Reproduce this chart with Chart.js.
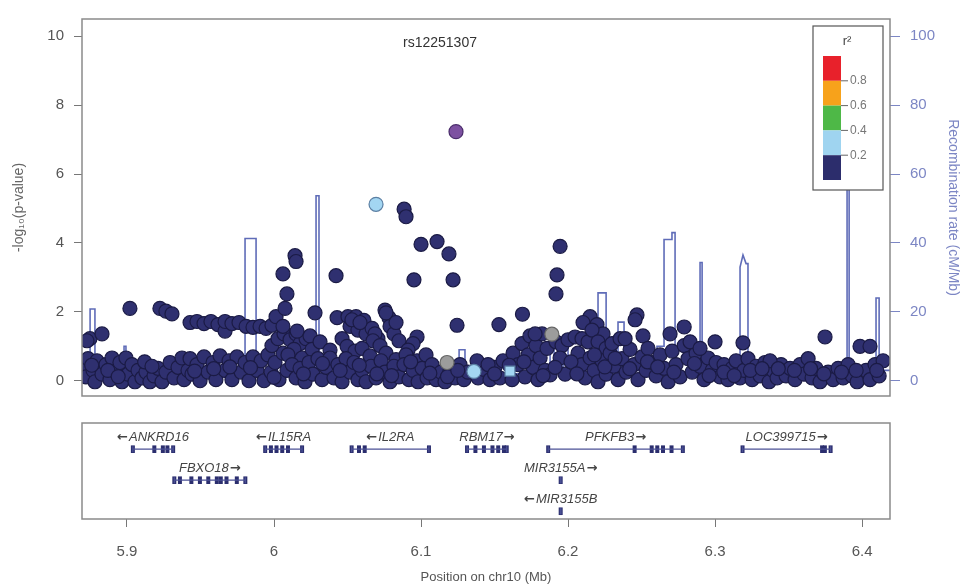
<!DOCTYPE html>
<html>
<head>
<meta charset="utf-8">
<script src="https://cdn.jsdelivr.net/npm/chart.js@4.4.1/dist/chart.umd.min.js"></script>
<style>
  html, body { margin: 0; padding: 0; background: #fff; }
  #wrap { position: relative; width: 965px; height: 587px; }
  canvas { position: absolute; left: 0; }
  #top { top: 0; }
  #genes { top: 415px; }
</style>
</head>
<body>
<div id="wrap">
  <canvas id="top" width="965" height="415"></canvas>
  <canvas id="genes" width="965" height="172"></canvas>
</div>
<script>
// ---- data (position in Mb, -log10 p) ----
const leadSnp = [[6.1238, 7.23]];
const lightBlueSnps = [[6.0694, 5.12], [6.1360, 0.27]];
const lightBlueSquare = [[6.1605, 0.28]];
const greySnps = [[6.1890, 1.35], [6.1177, 0.53]];

const navySnps = [
  [5.8707,0.39],[5.8721,0.11],[5.8735,0.64],[5.8748,1.22],[5.8728,1.16],[5.8769,0.30],[5.8782,-0.03],
  [5.8796,0.58],[5.8830,1.36],[5.8830,0.19],[5.8857,0.47],[5.8884,0.03],[5.8898,0.66],[5.8925,0.25],
  [5.8952,0.53],[5.8966,-0.03],[5.8993,0.66],[5.9007,0.19],[5.9034,0.47],[5.9054,-0.03],[5.9075,0.30],
  [5.9020,2.10],
  [5.9102,0.08],[5.9129,0.25],[5.9156,-0.03],[5.9184,0.14],[5.9211,0.36],[5.9224,2.10],[5.9265,2.02],
  [5.9306,1.94],[5.9238,-0.03],[5.9265,0.25],[5.9293,0.53],[5.9320,0.08],[5.9347,0.39],[5.9374,0.66],
  [5.9388,0.03],[5.9415,0.30],
  [5.9429,1.69],[5.9476,1.72],[5.9524,1.66],[5.9571,1.72],[5.9619,1.63],[5.9667,1.44],[5.9667,1.72],
  [5.9714,1.66],[5.9762,1.69],[5.9810,1.58],[5.9857,1.55],[5.9905,1.58],[5.9946,1.52],[5.9986,1.61],
  [6.0014,1.86],
  [5.9429,0.64],[5.9442,0.19],[5.9476,0.47],[5.9497,0.00],[5.9524,0.69],[5.9551,0.25],[5.9585,0.53],
  [5.9605,0.03],[5.9633,0.72],[5.9667,0.30],[5.9694,0.58],[5.9714,0.03],[5.9748,0.69],[5.9776,0.25],
  [5.9803,0.53],[5.9830,0.00],[5.9857,0.69],[5.9884,0.30],[5.9912,0.58],[5.9932,0.00],[5.9959,0.75],
  [5.9980,0.25],[6.0007,0.53],[6.0034,0.03],[6.0061,0.80],[6.0088,0.30],
  [5.9986,1.02],[6.0027,1.22],[6.0068,1.36],[6.0109,1.19],[6.0061,1.58],[6.0150,1.36],[6.0177,1.08],
  [6.0136,0.91],[6.0218,1.22],[6.0245,1.30],[6.0157,1.44],[6.0095,0.75],[6.0191,0.66],[6.0259,0.91],
  [6.0313,1.13],
  [6.0075,2.10],[6.0061,3.10],[6.0088,2.52],[6.0143,3.63],[6.0150,3.46],[6.0279,1.97],[6.0422,3.05],
  [6.0429,1.83],[6.0381,0.89],[6.0463,1.22],[6.0497,1.00],[6.0551,0.86],
  [6.0123,0.47],[6.0150,0.08],[6.0177,0.36],[6.0211,-0.03],[6.0238,0.53],[6.0265,0.19],[6.0299,0.64],
  [6.0327,0.03],[6.0354,0.39],[6.0381,0.66],[6.0408,0.08],[6.0435,0.47],[6.0463,-0.03],[6.0490,0.64],
  [6.0517,0.25],[6.0544,0.53],[6.0571,0.03],
  [6.0503,1.86],[6.0558,1.86],[6.0517,1.58],[6.0571,1.47],[6.0612,1.75],[6.0626,1.36],[6.0667,1.52],
  [6.0707,1.22],[6.0530,1.77],[6.0585,1.69],[6.0687,1.36],[6.0673,1.16],
  [6.0755,2.05],[6.0782,1.83],[6.0789,1.58],[6.0816,1.36],[6.0850,1.16],[6.0762,1.97],[6.0830,1.69],
  [6.0973,1.27],[6.0946,1.08],[6.0912,0.89],
  [6.0599,0.94],[6.0653,0.72],[6.0721,1.02],[6.0762,0.80],[6.0830,0.61],[6.0898,0.75],[6.0973,0.58],
  [6.1034,0.75],
  [6.0599,0.30],[6.0626,-0.03],[6.0660,0.42],[6.0694,0.08],[6.0728,0.58],[6.0755,0.25],[6.0789,-0.03],
  [6.0816,0.42],[6.0850,0.11],[6.0884,0.47],[6.0918,0.03],[6.0946,0.30],[6.0980,-0.03],[6.1007,0.36],
  [6.1041,0.08],[6.1075,0.47],[6.1102,0.03],[6.1136,0.25],[6.1163,-0.03],[6.1197,0.30],[6.1231,0.08],
  [6.1265,0.47],[6.1292,0.03],[6.1319,0.25],[6.1388,0.08],[6.1429,0.33],[6.1469,0.03],[6.1503,0.39],
  [6.1537,0.08],[6.1381,0.58],[6.1456,0.47],[6.1558,0.58],
  [6.0885,4.98],[6.0898,4.76],[6.1000,3.96],[6.1109,4.04],[6.1190,3.68],[6.1218,2.93],[6.0952,2.93],
  [6.1245,1.61],[6.1946,3.90],[6.1925,3.07],[6.1918,2.52],[6.1530,1.63],[6.1690,1.93],
  [6.1626,0.80],[6.1660,0.47],[6.1687,1.08],[6.1707,0.11],[6.1728,0.75],[6.1741,1.30],[6.1762,0.39],
  [6.1782,1.02],[6.1796,0.03],[6.1810,0.66],[6.1823,1.36],[6.1844,0.30],[6.1857,0.94],[6.1619,0.03],
  [6.1776,1.36],
  [6.1918,1.13],[6.1959,1.02],[6.2000,1.19],[6.2048,1.27],[6.2095,1.22],[6.2136,1.13],[6.1946,0.66],
  [6.1878,0.17],[6.1980,0.19],[6.1912,0.39],
  [6.2150,1.86],[6.2102,1.69],[6.2197,1.63],[6.2238,1.36],[6.2163,1.47],[6.2204,1.13],[6.2259,0.94],
  [6.2068,0.80],[6.2095,0.47],[6.2116,0.08],[6.2150,0.66],[6.2177,0.30],[6.2204,-0.03],[6.2231,0.58],
  [6.2259,0.19],[6.2286,0.80],[6.2313,0.42],[6.2340,0.03],[6.2367,0.64],[6.2395,0.25],[6.2422,0.91],
  [6.2449,0.47],[6.2476,0.03],[6.2503,0.69],[6.2531,0.30],[6.2299,1.08],[6.2354,1.22],[6.2469,1.91],
  [6.2456,1.77],[6.2510,1.30],[6.2388,1.22],[6.2544,0.94],[6.2694,1.36],[6.2790,1.56],
  [6.2571,0.53],[6.2599,0.14],[6.2626,0.75],[6.2653,0.36],[6.2681,-0.03],[6.2708,0.86],[6.2735,0.47],
  [6.2762,0.11],[6.2790,1.02],[6.2816,0.64],[6.2844,0.25],[6.2871,0.80],[6.2898,0.42],[6.2925,0.03],
  [6.2952,0.66],[6.2980,0.30],[6.3007,0.53],[6.3034,0.11],[6.3061,0.47],[6.3088,0.03],[6.3116,0.36],
  [6.3143,0.58],[6.3170,0.08],[6.3197,0.30],[6.3000,1.13],[6.3190,1.10],[6.2830,1.13],[6.2898,0.94],
  [6.3224,0.64],[6.3252,0.03],[6.3279,0.42],[6.3306,0.14],[6.3340,0.53],[6.3367,-0.03],[6.3394,0.30],
  [6.3422,0.08],[6.3449,0.47],[6.3374,0.58],[6.3483,0.14],[6.3510,0.36],[6.3544,0.03],[6.3578,0.47],
  [6.3605,0.19],[6.3633,0.64],[6.3660,0.08],[6.3687,0.36],[6.3714,-0.03],[6.3748,1.27],[6.3769,0.25],
  [6.3803,0.03],[6.3837,0.36],[6.3871,0.08],[6.3905,0.47],[6.3932,0.14],[6.3966,-0.03],[6.3986,1.00],
  [6.4054,1.00],[6.4027,0.30],[6.4054,0.03],[6.4088,0.47],[6.4116,0.14],[6.4143,0.58],
  // extra fill in the dense base band
  [5.8760,0.45],[5.8870,0.30],[5.8940,0.12],[5.9120,0.55],[5.9170,0.42],[5.9460,0.28],[5.9590,0.35],
  [5.9700,0.40],[5.9840,0.38],[6.0000,0.10],[6.0200,0.20],[6.0330,0.50],[6.0450,0.30],[6.0580,0.45],
  [6.0700,0.20],[6.0800,0.15],[6.0930,0.55],[6.1060,0.22],[6.1180,0.12],[6.1250,0.30],[6.1500,0.20],
  [6.1600,0.45],[6.1700,0.55],[6.1830,0.15],[6.2020,0.55],[6.2060,0.20],[6.2180,0.75],[6.2250,0.40],
  [6.2320,0.65],[6.2420,0.35],[6.2540,0.55],[6.2610,0.40],[6.2720,0.25],[6.2860,0.50],[6.2960,0.15],
  [6.3060,0.25],[6.3130,0.15],[6.3240,0.30],[6.3320,0.35],[6.3430,0.35],[6.3540,0.30],[6.3650,0.35],
  [6.3740,0.20],[6.3860,0.25],[6.3960,0.30],[6.4100,0.30]
];

// recombination rate (cM/Mb), corners of the step line
const recombPos  = [5.8694,5.8749,5.8749,5.8782,5.8782,5.8980,5.8980,5.8993,5.8993,5.9190,5.9190,5.9200,5.9200,
                    5.9803,5.9803,5.9878,5.9878,6.0286,6.0286,6.0306,6.0306,6.1259,6.1259,6.1299,6.1299,
                    6.1878,6.1878,6.1905,6.1905,6.1966,6.1966,6.2000,6.2000,6.2204,6.2204,6.2259,6.2259,
                    6.2340,6.2340,6.2381,6.2381,6.2605,6.2605,6.2653,6.2653,6.2707,6.2707,6.2728,6.2728,
                    6.2898,6.2898,6.2912,6.2912,6.3170,6.3170,6.3190,6.3211,6.3224,6.3224,6.3898,6.3898,
                    6.3912,6.3912,6.4095,6.4095,6.4116,6.4116,6.4190];
const recombRate = [1.5,1.5,20.8,20.8,2,2,10,10,2,2,4,4,1,
                    1,41.3,41.3,1.5,1.5,53.7,53.7,1.5,1.5,9,9,2,
                    2,10,10,3,3,10,10,2,2,25.5,25.5,3,
                    3,17,17,3,3,10,10,41,41,43,43,2,
                    2,34.3,34.3,2,2,33,36.5,34,34,2,2,66,
                    66,2,2,24,24,3,3];

const pTicks = [0, 2, 4, 6, 8, 10];
const recTicks = [0, 20, 40, 60, 80, 100];
const posTicks = [5.9, 6.0, 6.1, 6.2, 6.3, 6.4];

const legendColors = ['#e8212b', '#f7a21b', '#4eb847', '#9fd4f0', '#2c2d6c'];
const legendLabels = ['0.8', '0.6', '0.4', '0.2'];

// genes
const geneNames  = ['ANKRD16', 'FBXO18', 'IL15RA', 'IL2RA', 'RBM17', 'PFKFB3', 'MIR3155A', 'MIR3155B', 'LOC399715'];
const geneStrand = ['-', '+', '-', '-', '+', '+', '+', '-', '+'];
const geneStart  = [5.9040, 5.9322, 5.9940, 6.0528, 6.1313, 6.1865, 6.1948, 6.1948, 6.3187];
const geneEnd    = [5.9314, 5.9805, 6.0191, 6.1054, 6.1583, 6.2781, 6.1952, 6.1952, 6.3786];
const geneRow    = [0, 1, 0, 0, 0, 0, 1, 2, 0];
const geneExons  = [
  [5.9040, 5.9186, 5.9244, 5.9275, 5.9314],
  [5.9322, 5.9360, 5.9438, 5.9496, 5.9553, 5.9611, 5.9638, 5.9677, 5.9747, 5.9805],
  [5.9940, 5.9979, 6.0017, 6.0056, 6.0095, 6.0191],
  [6.0528, 6.0578, 6.0617, 6.1054],
  [6.1313, 6.1370, 6.1428, 6.1486, 6.1525, 6.1564, 6.1583],
  [6.1865, 6.2453, 6.2569, 6.2607, 6.2646, 6.2704, 6.2781],
  [6.1950],
  [6.1950],
  [6.3187, 6.3728, 6.3747, 6.3786]
];

const xMin = 5.8694, xMax = 6.4190;

Chart.defaults.font.family = '"Liberation Sans", Arial, sans-serif';

function pts(arr) { return arr.map(p => ({ x: p[0], y: p[1] })); }

function snpSet(arr, fill, edge, order, style) {
  return {
    type: 'scatter', data: pts(arr), yAxisID: 'y', order: order,
    backgroundColor: fill, borderColor: edge, pointRadius: 7, borderWidth: 1.2,
    pointStyle: style || 'circle'
  };
}

const framePlugin = {
  id: 'frame',
  afterDraw(chart) {
    const a = chart.chartArea, ctx = chart.ctx;
    ctx.save();
    ctx.strokeStyle = '#8a8a8a';
    ctx.lineWidth = 1.5;
    ctx.strokeRect(a.left, a.top, a.right - a.left, a.bottom - a.top);
    ctx.restore();
  }
};

const ldLegend = {
  id: 'ldLegend',
  afterDatasetsDraw(chart) {
    const a = chart.chartArea, ctx = chart.ctx;
    const bx = a.right - 77, by = a.top + 7, bw = 70, bh = 164;
    ctx.save();
    ctx.fillStyle = '#fff';
    ctx.fillRect(bx, by, bw, bh);
    ctx.strokeStyle = '#555';
    ctx.lineWidth = 1.2;
    ctx.strokeRect(bx, by, bw, bh);
    ctx.fillStyle = '#444';
    ctx.font = '13px "Liberation Sans", Arial, sans-serif';
    ctx.textAlign = 'center';
    ctx.textBaseline = 'middle';
    ctx.fillText('r²', bx + 34, by + 15);
    const barX = bx + 10, barW = 18, barTop = by + 30, segH = 24.8;
    legendColors.forEach((c, i) => {
      ctx.fillStyle = c;
      ctx.fillRect(barX, barTop + i * segH, barW, segH);
    });
    ctx.font = '12px "Liberation Sans", Arial, sans-serif';
    ctx.textAlign = 'left';
    ctx.strokeStyle = '#666';
    ctx.lineWidth = 1;
    legendLabels.forEach((t, i) => {
      const yy = barTop + (i + 1) * segH;
      ctx.beginPath();
      ctx.moveTo(barX + barW, yy);
      ctx.lineTo(barX + barW + 7, yy);
      ctx.stroke();
      ctx.fillStyle = '#777';
      ctx.fillText(t, barX + barW + 9, yy);
    });
    ctx.fillStyle = '#333';
    ctx.font = '14px "Liberation Sans", Arial, sans-serif';
    ctx.textAlign = 'center';
    ctx.fillText('rs12251307', (a.left + a.right) / 2 - 46, a.top + 24);
    ctx.restore();
  }
};

new Chart(document.getElementById('top'), {
  type: 'scatter',
  data: {
    datasets: [
      snpSet(leadSnp, '#7d51a1', '#4a2c6b', 0),
      snpSet(lightBlueSnps, '#a3d6f2', '#5b7fa3', 1),
      snpSet(lightBlueSquare, '#a3d6f2', '#5b7fa3', 1, 'rect'),
      snpSet(greySnps, '#9c9c9c', '#666', 2),
      snpSet(navySnps, '#2f3070', '#1b1b45', 3),
      {
        type: 'line', yAxisID: 'y2', order: 10,
        data: recombPos.map((p, i) => ({ x: p, y: recombRate[i] })),
        borderColor: '#5f6cb8', borderWidth: 1.6, pointRadius: 0, fill: false, tension: 0
      }
    ]
  },
  options: {
    responsive: false, animation: false, devicePixelRatio: 1, events: [],
    layout: { padding: { top: 10, bottom: 10, left: 0, right: 0 } },
    plugins: { legend: { display: false }, tooltip: { enabled: false } },
    scales: {
      x: { type: 'linear', min: xMin, max: xMax, display: false },
      y: {
        position: 'left', min: -0.443, max: 10.499,
        afterBuildTicks: s => { s.ticks = pTicks.map(v => ({ value: v })); },
        afterFit: s => { s.width = 82; },
        grid: { drawOnChartArea: false, tickLength: 8, color: '#777' },
        border: { display: false },
        ticks: { color: '#555', font: { size: 15 }, padding: 10 },
        title: { display: true, text: '-log₁₀(p-value)', color: '#666', font: { size: 14 }, padding: { top: 11, bottom: 0 } }
      },
      y2: {
        position: 'right', min: -4.43, max: 104.99,
        afterBuildTicks: s => { s.ticks = recTicks.map(v => ({ value: v })); },
        afterFit: s => { s.width = 75; },
        grid: { drawOnChartArea: false, tickLength: 10, color: '#7c86c4' },
        border: { display: false },
        ticks: { color: '#7c86c4', font: { size: 15 }, padding: 10 },
        title: { display: true, text: 'Recombination rate (cM/Mb)', color: '#7c86c4', font: { size: 14 }, padding: { top: 4, bottom: 0 } }
      }
    }
  },
  plugins: [ldLegend, framePlugin]
});

// ---- gene track ----
const geneSets = [];
geneNames.forEach((g, i) => {
  geneSets.push({
    type: 'line', data: [{ x: geneStart[i], y: geneRow[i] }, { x: geneEnd[i], y: geneRow[i] }],
    borderColor: '#4b5196', borderWidth: 1.2, pointRadius: 0
  });
  geneSets.push({
    type: 'scatter', data: [{ x: geneStart[i], y: geneRow[i] }, { x: geneEnd[i], y: geneRow[i] }],
    pointStyle: 'line', rotation: 90, pointRadius: 3, borderWidth: 1.3, borderColor: '#4b5196'
  });
  geneSets.push({
    type: 'scatter', data: geneExons[i].map(e => ({ x: e, y: geneRow[i] })),
    pointStyle: 'line', rotation: 90, pointRadius: 3.8, borderWidth: 4, borderColor: '#2b2e6e'
  });
});

const geneLabels = {
  id: 'geneLabels',
  afterDatasetsDraw(chart) {
    const xs = chart.scales.x, ys = chart.scales.y, ctx = chart.ctx;
    const nameFont = 'italic 13px "Liberation Sans", Arial, sans-serif';
    const arrowFont = 'bold 13px "DejaVu Sans", sans-serif';
    ctx.save();
    ctx.fillStyle = '#444';
    ctx.textAlign = 'left';
    ctx.textBaseline = 'middle';
    geneNames.forEach((g, i) => {
      const cx = xs.getPixelForValue((geneStart[i] + geneEnd[i]) / 2);
      const cy = ys.getPixelForValue(geneRow[i]) - 12;
      ctx.font = nameFont;
      const wn = ctx.measureText(g).width;
      ctx.font = arrowFont;
      const arrow = geneStrand[i] === '+' ? '\u2192' : '\u2190';
      const wa = ctx.measureText(arrow).width;
      let x0 = cx - (wn + wa + 1) / 2;
      if (geneStrand[i] === '+') {
        ctx.font = nameFont; ctx.fillText(g, x0, cy);
        ctx.font = arrowFont; ctx.fillText(arrow, x0 + wn + 1, cy);
      } else {
        ctx.font = arrowFont; ctx.fillText(arrow, x0, cy);
        ctx.font = nameFont; ctx.fillText(g, x0 + wa + 1, cy);
      }
    });
    ctx.restore();
  }
};

new Chart(document.getElementById('genes'), {
  type: 'scatter',
  data: { datasets: geneSets },
  options: {
    responsive: false, animation: false, devicePixelRatio: 1, events: [],
    layout: { padding: { top: 5, bottom: 0, left: 82, right: 75 } },
    plugins: { legend: { display: false }, tooltip: { enabled: false } },
    scales: {
      x: {
        type: 'linear', min: xMin, max: xMax,
        afterBuildTicks: s => { s.ticks = posTicks.map(v => ({ value: v })); },
        afterFit: s => { s.height = 68; },
        grid: { drawOnChartArea: false, tickLength: 8, color: '#777' },
        border: { display: false },
        ticks: { color: '#555', font: { size: 15 }, padding: 16, callback: v => String(Math.round(v * 10) / 10) },
        title: { display: true, text: 'Position on chr10 (Mb)', color: '#555', font: { size: 13 }, padding: { top: 0, bottom: 2 } }
      },
      y: { display: false, reverse: true, min: -0.844, max: 2.25 }
    }
  },
  plugins: [geneLabels, framePlugin]
});
</script>
</body>
</html>
